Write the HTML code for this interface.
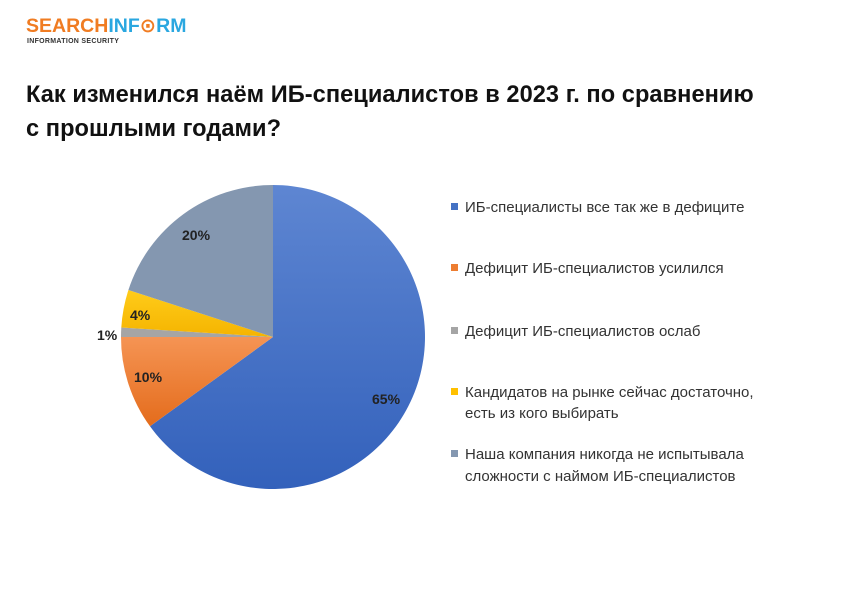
<!DOCTYPE html>
<html><head><meta charset="utf-8"><style>
body{margin:0;width:866px;height:604px;background:#fff;position:relative;font-family:"Liberation Sans","DejaVu Sans",sans-serif;overflow:hidden}
.t{position:absolute;white-space:nowrap}
</style></head><body>
<div class="t" style="left:26px;top:14px;font-size:19.5px;font-weight:bold;letter-spacing:0px"><span style="color:#f07c22">SEARCH</span><span style="color:#2aa7e0">INF<span style="color:#f07c22">⊙</span>RM</span></div>
<div class="t" style="left:27px;top:38px;font-size:7px;font-weight:bold;color:#333;letter-spacing:0.3px">INFORMATION SECURITY</div>
<div class="t" style="left:26px;top:78px;font-size:23.6px;font-weight:bold;color:#111;line-height:34px;letter-spacing:0.05px">Как изменился наём ИБ-специалистов в 2023 г. по сравнению<br>с прошлыми годами?</div>
<svg width="866" height="604" style="position:absolute;left:0;top:0">
<defs>
<linearGradient id="b" x1="0" y1="0" x2="0" y2="1"><stop offset="0" stop-color="#5e86d2"/><stop offset="1" stop-color="#3361bb"/></linearGradient>
<linearGradient id="o" x1="0" y1="0" x2="0" y2="1"><stop offset="0" stop-color="#f59454"/><stop offset="1" stop-color="#e46c1c"/></linearGradient>
<linearGradient id="y" x1="0" y1="0" x2="0" y2="1"><stop offset="0" stop-color="#ffcc1a"/><stop offset="1" stop-color="#f5b400"/></linearGradient>
</defs>
<path d="M273,337 L273,185 A152,152 0 1 1 150.0,426.3 Z" fill="url(#b)"/>
<path d="M273,337 L150.0,426.3 A152,152 0 0 1 121,337 Z" fill="url(#o)"/>
<path d="M273,337 L121,337 A152,152 0 0 1 121.3,327.5 Z" fill="#a5a5a5"/>
<path d="M273,337 L121.3,327.5 A152,152 0 0 1 128.4,290 Z" fill="url(#y)"/>
<path d="M273,337 L128.4,290 A152,152 0 0 1 273,185 Z" fill="#8497b0"/>
<g font-family="Liberation Sans,sans-serif" font-weight="bold" font-size="14" fill="#222">
<text x="182" y="240">20%</text>
<text x="130" y="320">4%</text>
<text x="97" y="340">1%</text>
<text x="134" y="382">10%</text>
<text x="372" y="404">65%</text>
</g>
<rect x="451" y="203" width="7" height="7" fill="#4472c4"/>
<rect x="451" y="264" width="7" height="7" fill="#ed7d31"/>
<rect x="451" y="327" width="7" height="7" fill="#a5a5a5"/>
<rect x="451" y="388" width="7" height="7" fill="#ffc000"/>
<rect x="451" y="450" width="7" height="7" fill="#8497b0"/>
<g font-family="Liberation Sans,sans-serif" font-size="15" fill="#333">
<text x="465" y="212">ИБ-специалисты все так же в дефиците</text>
<text x="465" y="273">Дефицит ИБ-специалистов усилился</text>
<text x="465" y="336">Дефицит ИБ-специалистов ослаб</text>
<text x="465" y="397">Кандидатов на рынке сейчас достаточно,</text>
<text x="465" y="418">есть из кого выбирать</text>
<text x="465" y="459">Наша компания никогда не испытывала</text>
<text x="465" y="481">сложности с наймом ИБ-специалистов</text>
</g>
</svg>
</body></html>
